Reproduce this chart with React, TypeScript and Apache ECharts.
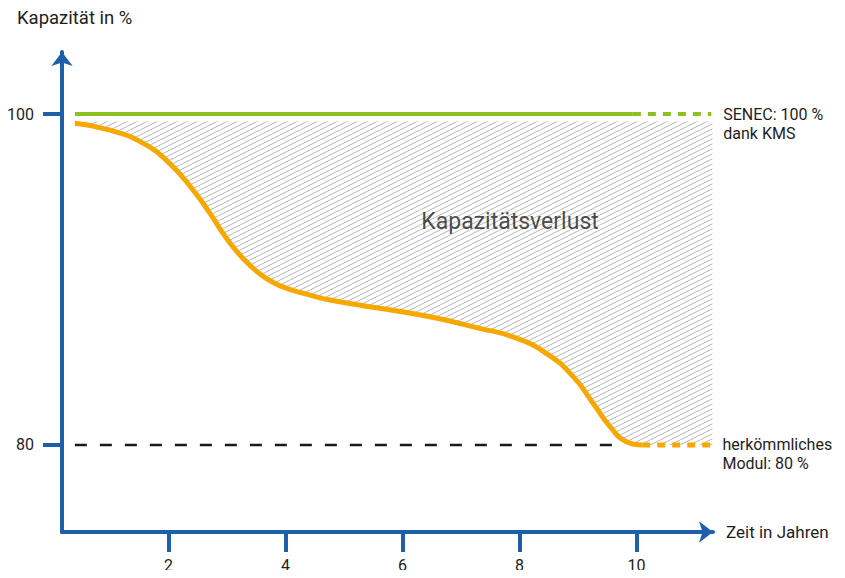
import React, { useEffect, useRef } from "react";
import * as echarts from "echarts";

// ---- data ----
const xTicks = [2, 4, 6, 8, 10];
const yTicks = [80, 100];
// conventional module capacity curve [year, %]
const moduleCurve: [number, number][] = [
  [0.4, 99.44], [1.0, 99.03], [1.57, 98.23], [2.02, 97.02], [2.42, 95.41],
  [2.71, 94.0], [2.99, 92.5], [3.28, 91.25], [3.56, 90.35], [3.8, 89.8],
  [4.02, 89.47], [4.42, 89.06], [4.76, 88.76], [5.61, 88.26], [6.47, 87.75],
  [7.32, 87.05], [7.89, 86.53], [8.46, 85.54], [8.92, 84.13], [9.26, 82.52],
  [9.55, 81.11], [9.83, 80.2], [10.1, 80.0],
];
const moduleProjection: [number, number][] = [[10.1, 80], [11.3, 80]];
const senecSolid: [number, number][] = [[0.4, 100], [9.94, 100]];
const senecProjection: [number, number][] = [[9.94, 100], [11.28, 100]];
const reference80: [number, number][] = [[0.4, 80], [9.6, 80]];
const lossTop = 99.55;
const lossLabelPos: [number, number] = [7.84, 93.5];

const BLUE = "#1d5fa8";
const GREEN = "#8cc21f";
const ORANGE = "#f7a800";
const TEXT = "#1e1e1e";
const FONT = "Roboto, 'Noto Sans', sans-serif";

function makeHatch() {
  const c = document.createElement("canvas");
  c.width = 20;
  c.height = 10;
  const ctx = c.getContext("2d")!;
  ctx.strokeStyle = "#bdbdbd";
  ctx.lineWidth = 1.1;
  for (let k = -3; k <= 3; k++) {
    const c0 = k * 10;
    ctx.beginPath();
    ctx.moveTo(c0, 10);
    ctx.lineTo(c0 + 20, 0);
    ctx.stroke();
  }
  return c;
}

export default function App() {
  const ref = useRef<HTMLDivElement>(null);
  useEffect(() => {
    if (!ref.current) return;
    const chart = echarts.init(ref.current, undefined, { renderer: "svg" });
    const hatch = makeHatch();
    const hatchData = [...moduleCurve, ...moduleProjection.slice(1)];
    chart.setOption({
      animation: false,
      backgroundColor: "#ffffff",
      textStyle: { fontFamily: FONT },
      grid: { left: 62, right: 845 - 713, top: 52, bottom: 578 - 532, containLabel: false },
      xAxis: {
        type: "value",
        min: 0.18,
        max: 11.31,
        name: "Zeit in Jahren",
        nameLocation: "end",
        nameGap: 13,
        nameTextStyle: { color: TEXT, fontSize: 17, fontFamily: FONT, verticalAlign: "middle" },
        axisLine: {
          show: true,
          onZero: false,
          symbol: ["none", "arrow"],
          symbolSize: [16, 14],
          lineStyle: { color: BLUE, width: 4 },
        },
        axisTick: { show: true, customValues: xTicks, length: 20, lineStyle: { color: BLUE, width: 4 } },
        axisLabel: { show: true, customValues: xTicks, margin: 25, color: TEXT, fontSize: 16, fontFamily: FONT },
        splitLine: { show: false },
      },
      yAxis: {
        type: "value",
        min: 74.74,
        max: 103.75,
        axisLine: {
          show: true,
          onZero: false,
          symbol: ["none", "arrow"],
          symbolSize: [16, 14],
          lineStyle: { color: BLUE, width: 4 },
        },
        axisTick: { show: true, customValues: yTicks, length: 19, lineStyle: { color: BLUE, width: 4 } },
        axisLabel: { show: true, customValues: yTicks, margin: 28, color: TEXT, fontSize: 16, fontFamily: FONT },
        splitLine: { show: false },
      },
      graphic: [
        {
          type: "text",
          left: 17,
          top: 8,
          style: { text: "Kapazität in %", fill: TEXT, font: `18.5px ${FONT}` },
        },
      ],
      series: [
        {
          name: "hatch",
          type: "line",
          data: hatchData,
          smooth: 0.5,
          symbol: "none",
          lineStyle: { width: 0, opacity: 0 },
          areaStyle: {
            origin: lossTop,
            opacity: 1,
            color: { image: hatch, repeat: "repeat", imageWidth: 20, imageHeight: 10 },
          },
          z: 1,
          silent: true,
        },
        {
          name: "ref80",
          type: "line",
          data: reference80,
          symbol: "none",
          lineStyle: { color: "#1a1a1a", width: 2.5, type: [12, 13] },
          z: 2,
        },
        {
          name: "senec",
          type: "line",
          data: senecSolid,
          symbol: "none",
          lineStyle: { color: GREEN, width: 4 },
          z: 3,
        },
        {
          name: "senecProj",
          type: "line",
          data: senecProjection,
          symbol: "none",
          lineStyle: { color: GREEN, width: 4, type: [8, 7] },
          endLabel: {
            show: true,
            formatter: "SENEC: 100 %\ndank KMS",
            color: TEXT,
            fontSize: 16,
            lineHeight: 19,
            fontFamily: FONT,
            distance: 12,
            offset: [0, 10],
          },
          z: 3,
        },
        {
          name: "module",
          type: "line",
          data: moduleCurve,
          smooth: 0.5,
          symbol: "none",
          lineStyle: { color: ORANGE, width: 5 },
          z: 4,
        },
        {
          name: "moduleProj",
          type: "line",
          data: moduleProjection,
          symbol: "none",
          lineStyle: { color: ORANGE, width: 5, type: [8, 7] },
          endLabel: {
            show: true,
            formatter: "herkömmliches\nModul: 80 %",
            color: TEXT,
            fontSize: 16,
            lineHeight: 19,
            fontFamily: FONT,
            distance: 10,
            offset: [0, 9],
          },
          z: 4,
        },
        {
          name: "lossLabel",
          type: "scatter",
          data: [lossLabelPos],
          symbolSize: 1,
          itemStyle: { color: "rgba(0,0,0,0)" },
          label: {
            show: true,
            position: "inside",
            formatter: "Kapazitätsverlust",
            color: TEXT,
            fontSize: 23,
            fontFamily: FONT,
          },
          z: 5,
          silent: true,
        },
      ],
    });
    return () => chart.dispose();
  }, []);
  return <div ref={ref} style={{ width: 845, height: 578, margin: -8 }} />;
}
